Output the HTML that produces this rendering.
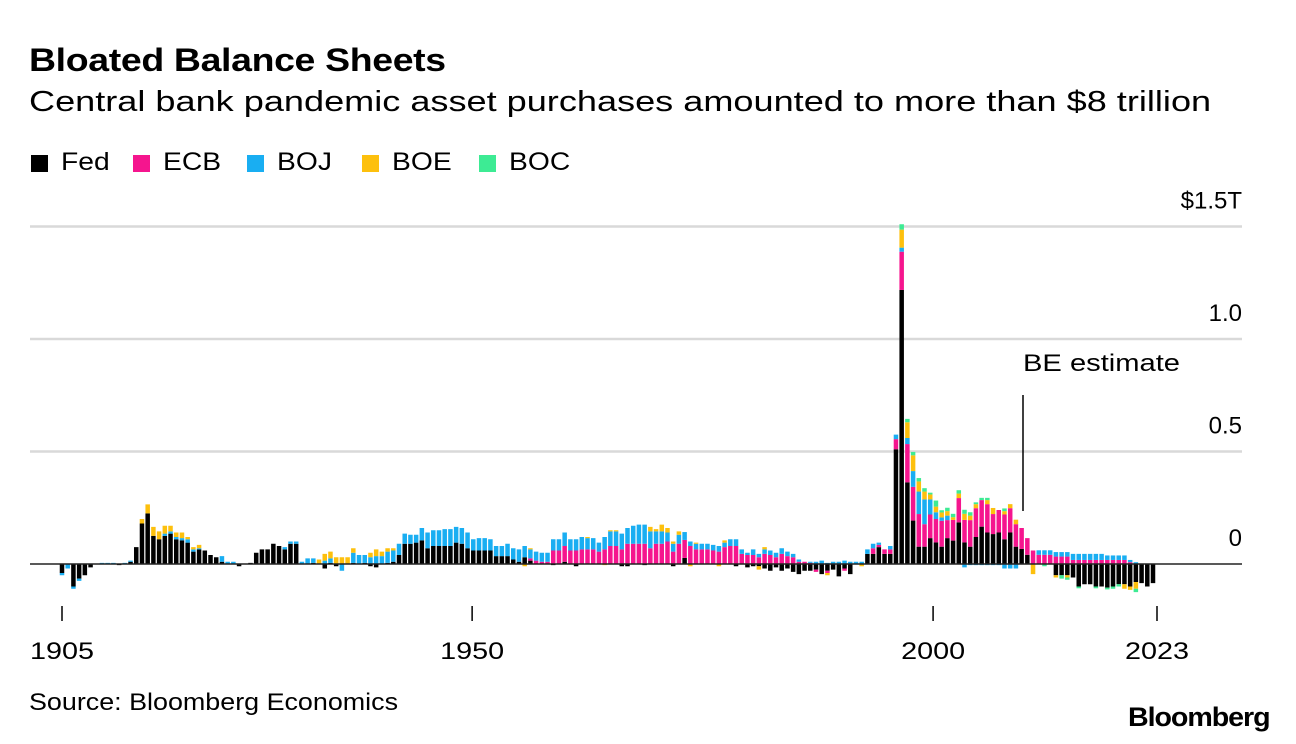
<!DOCTYPE html>
<html><head><meta charset="utf-8">
<style>
html,body{margin:0;padding:0;background:#fff;}
body{width:1296px;height:744px;position:relative;overflow:hidden;font-family:"Liberation Sans",Arial,sans-serif;color:#000;}
.t{position:absolute;white-space:nowrap;transform-origin:left top;}
.sw{position:absolute;width:17px;height:17px;}
</style></head>
<body>
<div class="t" style="left:29px;top:42px;font-size:32px;font-weight:bold;letter-spacing:-0.3px;transform:scaleX(1.17);">Bloated Balance Sheets</div>
<div class="t" style="left:29px;top:86px;font-size:29px;transform:scaleX(1.245);">Central bank pandemic asset purchases amounted to more than $8 trillion</div>
<div>
<div class="sw" style="left:31px;top:155px;background:#000;"></div>
<div class="t" style="left:61px;top:148px;font-size:25px;transform:scaleX(1.13);">Fed</div>
<div class="sw" style="left:133px;top:155px;background:#f5158e;"></div>
<div class="t" style="left:163px;top:148px;font-size:25px;transform:scaleX(1.13);">ECB</div>
<div class="sw" style="left:247px;top:155px;background:#19aef2;"></div>
<div class="t" style="left:277px;top:148px;font-size:25px;transform:scaleX(1.13);">BOJ</div>
<div class="sw" style="left:362px;top:155px;background:#fdc00d;"></div>
<div class="t" style="left:392px;top:148px;font-size:25px;transform:scaleX(1.13);">BOE</div>
<div class="sw" style="left:479px;top:155px;background:#3deb94;"></div>
<div class="t" style="left:509px;top:148px;font-size:25px;transform:scaleX(1.13);">BOC</div>
</div>
<svg id="chart" width="1296" height="744" style="position:absolute;left:0;top:0;" xmlns="http://www.w3.org/2000/svg"></svg>
<div class="t" style="left:29px;top:689px;font-size:24px;transform:scaleX(1.12);">Source: Bloomberg Economics</div>
<div class="t" style="left:1128px;top:702px;font-size:27px;font-weight:bold;letter-spacing:-1px;transform:scaleX(1.06);">Bloomberg</div>
<script>
const fed=[-0.04,0,-0.10,-0.065,-0.05,-0.015,0,0,0,0,-0.005,0,0.01,0.075,0.18,0.225,0.125,0.11,0.125,0.135,0.11,0.105,0.095,0.055,0.065,0.06,0.04,0.03,0.01,0,0,-0.01,0,0.005,0.05,0.065,0.065,0.09,0.08,0.065,0.09,0.09,0,0,0.005,0,-0.02,0.005,-0.01,0,0,
0.005,0,0.005,-0.01,-0.015,0,0.005,0.01,0.04,0.09,0.09,0.095,0.105,0.07,0.08,0.08,0.08,0.08,0.095,0.09,0.07,0.06,0.06,0.06,0.06,0.035,0.035,0.035,0.02,0.01,0.03,0.015,0,0,0,-0.005,0,0.01,0,-0.01,0,0,0,0,0,0,
0,-0.01,-0.01,0,0,-0.005,0,0,0,0,-0.01,0,0.027,0,0,0,0,0,0,0,0,-0.01,0,-0.015,-0.01,-0.01,-0.02,-0.03,-0.015,-0.03,-0.02,-0.035,-0.045,-0.03,-0.03,-0.025,-0.045,-0.03,-0.025,-0.055,-0.02,-0.045,0,0,0.045,0.045,0.075,0.045,0.045,
0.51,1.218,0.363,0.193,0.077,0.077,0.115,0.096,0.077,0.115,0.104,0.185,0.096,0.077,0.12,0.166,0.14,0.133,0.14,0.11,0.14,0.077,0.067,0.041,0,0,0,0,-0.05,-0.05,-0.05,-0.06,-0.1,-0.09,-0.09,-0.1,-0.1,-0.105,-0.1,-0.09,-0.09,-0.1,-0.08,-0.085,-0.1,-0.085];
const ecb=[0,0,0,0,0,0,0,0,0,0,0,0,0,0,0,0,0,0,0,0,0,0,0,0,0,0,0,0,0,0,0,0,0,0,0,0,0,0,0,0,0,0,0,0,0,0,0,0,0,0,0,
0,0,0,0,0,0,0,0,0,0,0,0,0,0,0,0,0,0,0,0,0,0,0,0,0,0,0,0,0,0,0,0.01,0.015,0.01,0.01,0.06,0.06,0.07,0.06,0.06,0.065,0.065,0.065,0.055,0.065,0.08,
0.08,0.065,0.09,0.09,0.09,0.09,0.07,0.09,0.09,0.1,0.055,0.09,0.08,0.08,0.065,0.065,0.065,0.06,0.055,0.075,0.08,0.08,0.045,0.04,0.04,0.03,0.045,0.04,0.03,0.045,0.035,0.03,0.01,0.01,0.005,-0.01,0,-0.01,0,0,-0.01,0,0,0,0,0.025,0.01,0.02,0.02,
0.045,0.17,0.17,0.15,0.145,0.1,0.105,0.104,0.115,0.08,0.092,0.108,0.1,0.118,0.128,0.118,0.126,0.089,0.1,0.11,0.108,0.1,0.093,0.074,0.06,0.041,0.041,0.041,0.033,0.033,0.033,0.018,0.018,0.018,0.018,0.018,0.018,0.018,0.018,0.018,0.018,0.008,0,0,0,0];
const boj=[-0.01,-0.02,-0.01,-0.01,0,0,0,0.005,0.005,0.005,0,0.005,0.005,0,0,0,0,0,0.01,0.01,0.01,0.01,0.015,0.01,0.005,0,0,0,0.025,0.01,0.01,0,0,0,0,0,0,0,0,0.01,0.01,0.01,0.01,0.025,0.02,0,0.015,0.02,0,-0.03,0,
0.045,0.04,0.035,0.03,0.035,0.035,0.05,0.05,0.05,0.045,0.04,0.035,0.055,0.07,0.07,0.07,0.075,0.075,0.07,0.07,0.07,0.05,0.055,0.055,0.05,0.045,0.045,0.055,0.05,0.055,0.05,0.04,0.04,0.04,0.04,0.05,0.05,0.06,0.05,0.05,0.055,0.05,0.05,0.04,0.055,0.065,
0.065,0.07,0.07,0.08,0.085,0.085,0.075,0.055,0.055,0.04,0.035,0.04,0.035,0.02,0.025,0.025,0.025,0.025,0.025,0.02,0.03,0.03,0.02,0.01,0.025,0.015,0.02,0.02,0.02,0.025,0.02,0.015,0.01,0,0.005,0.01,0.015,0.005,0.01,0.01,0.015,0.01,0.01,0.01,0.02,0.02,0.01,0,0.015,
0.02,0.018,0.027,0.07,0.1,0.11,0.067,0.03,0.015,0.02,0,0,-0.015,-0.005,-0.005,-0.005,-0.005,-0.005,-0.005,-0.02,-0.02,-0.02,0,0,0,0.02,0.02,0.02,0.02,0.02,0.02,0.027,0.027,0.027,0.027,0.027,0.027,0.02,0.02,0.02,0.02,0.01,0.008,0,0,0];
const boe=[0,0,0,0,0,0,0,0,0,0,0,0,0,0,0.02,0.04,0.04,0.035,0.035,0.025,0.02,0.025,0.01,0.01,0.015,0,0,0,0,0,0,0,0,0,0,0,0,0,0,0,0,0,0,0,0,0.02,0.03,0.03,0.03,0.03,0.03,
0.02,0,0,0.02,0.03,0.02,0.015,0.01,0,0,0,0,0,0,0,0,0,0,0,0,0,0,0,0,0,0,0,0,0,0,-0.01,0.005,0,0,0,0,0,0,0,0,0,0.005,0,0,-0.005,0.005,
0.005,0,0,0,0,0,0.02,0.01,0.03,0.02,0.01,0.015,0,-0.01,0.005,0,0,0,-0.01,0.01,0,0,0,0,0,-0.015,0.01,0,0,0,0,0,0,0,0,0,0,-0.01,0,0,0,0,0,-0.01,0,0,0,0,0,
0,0.08,0.07,0.07,0.045,0.035,0.022,0.025,0.022,0.02,0.012,0.02,0.027,0.02,0.018,0,0.018,0.027,0,0.015,0.018,0.02,0,0,-0.045,0,0,0,-0.01,0,-0.01,0,0,0,0,0,0,0,0,0,-0.02,-0.015,-0.03,0,0,0];
const boc=[0,0,0,0,0,0,0,0,0,0,0,0,0,0,0,0,0,0,0,0,0,0,0,0,0,0,0,0,0,0,0,0,0,0,0,0,0,0,0,0,0,0,0,0,0,0,0,0,0,0,0,
0,0,0,0,0,0,0,0,0,0,0,0,0,0,0,0,0,0,0,0,0,0,0,0,0,0,0,0,0,0,0,0,0,0,0,0,0,0,0,0,0,0,0,0,0,0,
0,0,0,0,0,0,0,0,0,0,0,0,0,0,0,0,0,0,0,0,0,0,0,0,0,0,0,0,0,0,0,0,0,0,0,0,0,0,0,0,0,0,0,0,0,0,0,0,0,
0,0.024,0.015,0.015,0.015,0.015,0.008,0.027,0.01,0.015,0.015,0.015,0.018,0.015,0.008,0.01,0.01,0,0,0.012,0,0,0,0,0,0,-0.01,0,0,-0.015,-0.01,0,-0.008,0,0,-0.008,0,-0.008,-0.01,-0.01,0,0,-0.015,0,0,0];
const yTicks=[0,0.5,1.0,1.5];
const yTickLabels=["0","0.5","1.0","$1.5T"];
const xTickYears=[1905,1950,2000,2023];
const xTickBar=[0,71.8,152.5,191.7];
const seriesList=[fed,ecb,boj,boe,boc];
const seriesNames=["fed","ecb","boj","boe","boc"];
const colors=["#000000","#f5158e","#19aef2","#fdc00d","#3deb94"];

const NS="http://www.w3.org/2000/svg";
const svg=document.getElementById('chart');
const x0=30,x1=1242,y0=564,pxPerT=225;
const firstBar=62,lastBar=1153;
const n=fed.length;
const step=(lastBar-firstBar)/(n-1);
function yScale(v){return y0-v*pxPerT;}
function xScale(i){return firstBar+i*step;}
function mk(tag,attrs){const e=document.createElementNS(NS,tag);for(const k in attrs)e.setAttribute(k,attrs[k]);svg.appendChild(e);return e;}

yTicks.forEach((v,k)=>{
  if(v>0){const g=mk('line',{x1:x0,x2:x1,y1:yScale(v),y2:yScale(v),stroke:'#d9d9d9','stroke-width':2.5});
  
  }
  const t=mk('text',{x:x1,y:yScale(v)-18,'text-anchor':'end','font-size':24,'font-family':'Liberation Sans, sans-serif',fill:'#000'});
  t.textContent=yTickLabels[k];
  
  
});

const bw=4.5;
for(let i=0;i<n;i++){
  let pos=0,neg=0;
  for(let s=0;s<5;s++){
    const v=seriesList[s][i];
    if(!v)continue;
    let top,bot;
    if(v>0){bot=pos;top=pos+v;pos=top;}else{top=neg;bot=neg+v;neg=bot;}
    const r=mk('rect',{x:xScale(i)-bw/2,y:yScale(top),width:bw,height:Math.max(0.8,(top-bot)*pxPerT),fill:colors[s]});
    
    
  }
}
const zl=mk('line',{x1:x0,x2:x1,y1:y0,y2:y0,stroke:'#222','stroke-width':1.5});



xTickYears.forEach((yr,k)=>{
  const xx=xScale(xTickBar[k]);
  const l=mk('line',{x1:xx,x2:xx,y1:606,y2:621,stroke:'#000','stroke-width':1.5});
  
  
  const t=mk('text',{x:xx-32,y:659,textLength:64,lengthAdjust:'spacingAndGlyphs','font-size':24,'font-family':'Liberation Sans, sans-serif',fill:'#000'});
  t.textContent=yr;
  
  
});

const al=mk('line',{x1:1023,x2:1023,y1:395,y2:511,stroke:'#000','stroke-width':1.5});


const at=mk('text',{x:1023,y:371,textLength:157,lengthAdjust:'spacingAndGlyphs','font-size':24,'font-family':'Liberation Sans, sans-serif',fill:'#000'});
at.textContent='BE estimate';


</script>
</body></html>
